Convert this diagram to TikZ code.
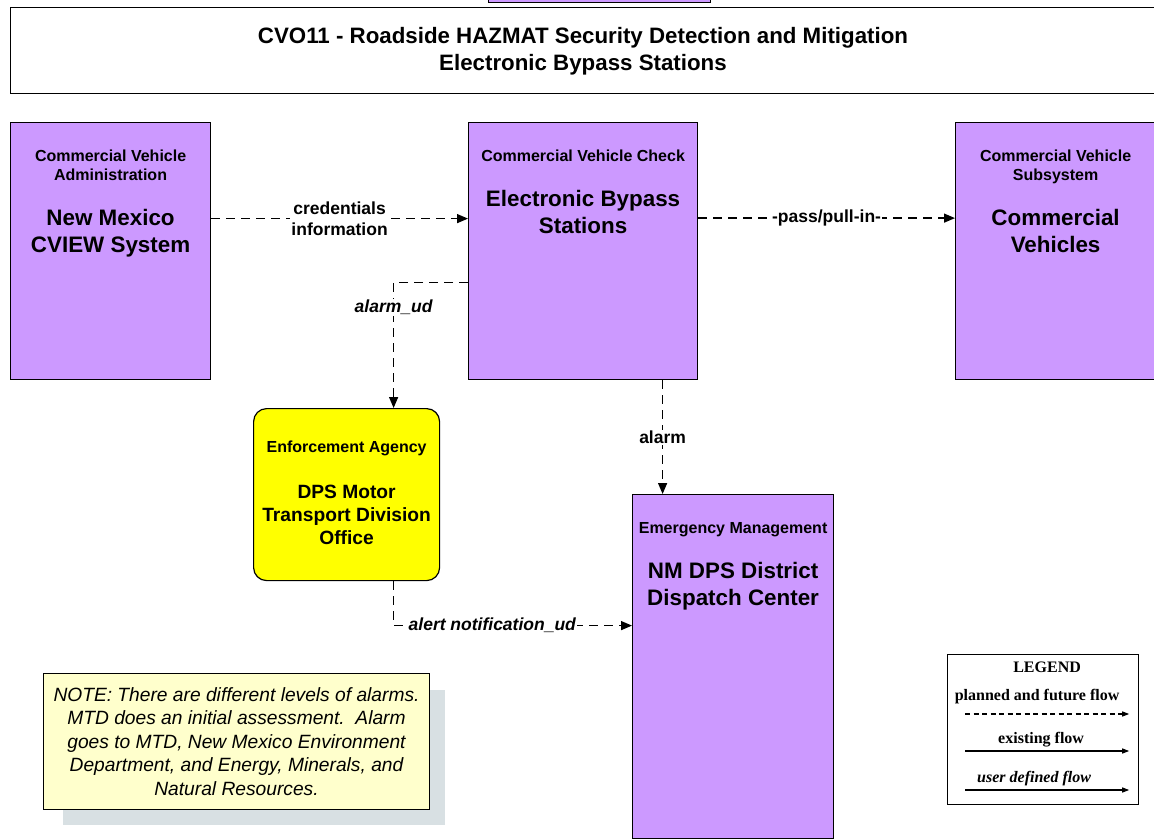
\documentclass[tikz,border=0pt]{standalone}
\usepackage{fontspec}
\setmainfont{Liberation Sans}
\newfontfamily\lgdfont{Liberation Serif}
\usetikzlibrary{arrows.meta,positioning,calc,backgrounds}
\definecolor{sysPurple}{HTML}{CC99FF}
\definecolor{agcYellow}{HTML}{FFFF00}
\definecolor{noteYellow}{HTML}{FFFFCC}
\definecolor{noteShade}{HTML}{D8E0E3}

\begin{document}
\begin{tikzpicture}[x=1pt, y=-1pt,
  >={Triangle[length=11pt,width=9pt]},
  sys/.style={draw, fill=sysPurple, line width=1.2pt, anchor=north west, inner sep=0pt},
  captxt/.style={font=\bfseries\fontsize{16}{19}\selectfont, align=center, inner sep=0pt, text depth=0pt},
  bigtxt/.style={font=\bfseries\fontsize{22.4}{27}\selectfont, align=center, inner sep=0pt},
  lbl/.style={font=\bfseries\fontsize{17.5}{21}\selectfont, fill=white, inner sep=1pt, align=center},
  udl/.style={font=\bfseries\itshape\fontsize{17.5}{21}\selectfont},
  flow/.style={->, line width=1.4pt, dash pattern=on 9pt off 6pt},
  lgdtxt/.style={font=\lgdfont\bfseries\fontsize{16}{18}\selectfont, inner sep=0pt},
  lgdarr/.style={-{Triangle[length=7pt,width=5pt]}, line width=1.1pt}
]
\useasboundingbox (0,0) rectangle (1154,840);

% Title
\node[sys, anchor=south west, minimum width=222pt, minimum height=30pt] (top) at (488,3) {};
\node[draw, line width=1.2pt, anchor=north west, minimum width=1160pt, minimum height=86pt, inner sep=0pt] (ttl) at (10,7) {};
\node[font=\bfseries\fontsize{22.3}{27}\selectfont, align=center, inner sep=0pt] (ttlT) at (583,51.7)
  {CVO11 - Roadside HAZMAT Security Detection and Mitigation\\Electronic Bypass Stations};

% Systems
\node[sys, minimum width=200pt, minimum height=257pt] (cva) at (10,122) {};
\node[captxt, below=28.2pt of cva.north] (cvaC) {Commercial Vehicle\\Administration};
\node[bigtxt, below=28.3pt of cvaC] (cvaN) {New Mexico\\CVIEW System};

\node[sys, minimum width=229pt, minimum height=257pt] (ebs) at (468,122) {};
\node[captxt, below=28.2pt of ebs.north] (ebsC) {Commercial Vehicle Check};
\node[bigtxt, below=28.3pt of ebsC] (ebsN) {Electronic Bypass\\Stations};

\node[sys, minimum width=200pt, minimum height=257pt] (cvs) at (955,122) {};
\node[captxt, below=28.2pt of cvs.north] (cvsC) {Commercial Vehicle\\Subsystem};
\node[bigtxt, below=28.3pt of cvsC] (cvsN) {Commercial\\Vehicles};

\node[sys, fill=agcYellow, rounded corners=13pt, minimum width=186pt, minimum height=172pt] (mtd) at (253,408) {};
\node[captxt, below=33.2pt of mtd.north] (mtdC) {Enforcement Agency};
\node[bigtxt, font=\bfseries\fontsize{19.2}{23}\selectfont, below=31.5pt of mtdC] (mtdN) {DPS Motor\\Transport Division\\Office};

\node[sys, minimum width=201pt, minimum height=344pt] (dsp) at (632,494) {};
\node[captxt, below=28.2pt of dsp.north] (dspC) {Emergency Management};
\node[bigtxt, below=28.3pt of dspC] (dspN) {NM DPS District\\Dispatch Center};

% Flows
\draw[flow] ([yshift=32.5pt]cva.east) -- node[lbl] {credentials\\information} ([yshift=32.5pt]ebs.west);
\draw[flow] ([yshift=33pt]ebs.east) -- node[lbl] {-pass/pull-in-} ([yshift=33pt]cvs.west);
\draw[flow] ([yshift=-31.5pt]ebs.west) -| node[lbl, udl, pos=0.6] {alarm\_ud} ([xshift=47pt]mtd.north);
\draw[flow] ([xshift=79.5pt]ebs.south) -- node[lbl] {alarm} ([xshift=-70.5pt]dsp.north);
\draw[flow] ([xshift=47pt]mtd.south) |- node[lbl, udl, pos=0.707] {alert notification\_ud} ([yshift=41pt]dsp.west);

% Note
\node[draw, fill=noteYellow, line width=1pt, anchor=north west, minimum width=386pt, minimum height=136pt,
  inner sep=0pt, align=center, font=\itshape\fontsize{19.2}{23.5}\selectfont] (note) at (43,673)
  {NOTE: There are different levels of alarms.\\MTD does an initial assessment.\ \ Alarm\\goes to MTD, New Mexico Environment\\Department, and Energy, Minerals, and\\Natural Resources.};
\begin{scope}[on background layer]
  \fill[noteShade] ([shift={(20pt,-17pt)}]note.north west) rectangle ([shift={(15pt,-15pt)}]note.south east);
\end{scope}

% Legend
\node[draw, line width=1.2pt, anchor=north west, minimum width=191pt, minimum height=150pt] (lgd) at (947,654) {};
\node[lgdtxt] (lgdH) at ([xshift=4pt,yshift=-13pt]lgd.north) {LEGEND};
\node[lgdtxt] (lgdP) at ([xshift=-6pt,yshift=-43pt]lgd.north) {planned and future flow};
\node[lgdtxt] (lgdE) at ([xshift=-2pt,yshift=-86pt]lgd.north) {existing flow};
\node[lgdtxt, font=\lgdfont\bfseries\itshape\fontsize{16}{18}\selectfont] (lgdU) at ([xshift=-9pt,yshift=-125pt]lgd.north) {user defined flow};
\draw[lgdarr, dash pattern=on 5pt off 3.5pt] ([xshift=18pt,yshift=-60pt]lgd.north west) -- ([xshift=-10pt,yshift=-60pt]lgd.north east);
\draw[lgdarr] ([xshift=18pt,yshift=-97pt]lgd.north west) -- ([xshift=-10pt,yshift=-97pt]lgd.north east);
\draw[lgdarr] ([xshift=18pt,yshift=-136pt]lgd.north west) -- ([xshift=-10pt,yshift=-136pt]lgd.north east);
\end{tikzpicture}
\end{document}
